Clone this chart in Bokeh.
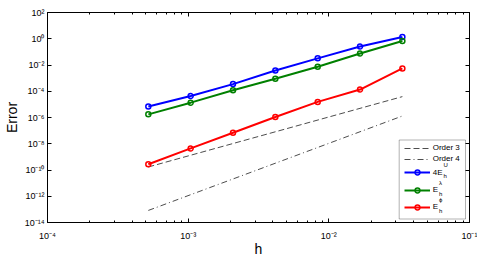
from bokeh.plotting import figure
from bokeh.models import (LogAxis, FixedTicker, CustomJSTickFormatter, Legend, LegendItem,
                          Label, BoxAnnotation, Range1d)
from bokeh.embed import file_html
from bokeh.resources import INLINE

# ---- data ----
h = [1/1920, 1/960, 1/480, 1/240, 1/120, 1/60, 1/30]
err_u4 = [6.8e-6, 4.4e-5, 3.5e-4, 3.8e-3, 3.2e-2, 2.6e-1, 1.38]      # 4 E_h^U
err_lam = [1.74e-6, 1.35e-5, 1.2e-4, 8.9e-4, 7.4e-3, 7.6e-2, 6.8e-1]  # E_h^lambda
err_phi = [2.75e-10, 4.4e-9, 6.9e-8, 1.1e-6, 1.55e-5, 1.35e-4, 5.5e-3]  # E_h^phi
ref_h = [1/1920, 1/30]
order3 = [1.7e-10, 3.9e-5]
order4 = [8.3e-14, 1.3e-6]

x_ticks = [1e-4, 1e-3, 1e-2, 1e-1]
x_minor = [m * 10.0 ** e for e in (-4, -3, -2) for m in range(2, 10)]
y_ticks = [1e-14, 1e-12, 1e-10, 1e-8, 1e-6, 1e-4, 1e-2, 1e0, 1e2]

legend_labels = ["Order 3", "Order 4", "4E", "E", "E"]
sup_labels = ["U", "\u03bb", "\u03d5"]

FONT = "Liberation Sans"
BLUE, GREEN, RED, GREY = "#0000ff", "#008000", "#ff0000", "#4d4d4d"

FRAME_L, FRAME_B = 45, 222.5   # page px of frame left / bottom (for annotations)

p = figure(frame_width=422, frame_height=210, x_axis_type="log", y_axis_type="log",
           x_range=Range1d(1e-4, 1e-1), y_range=Range1d(1e-14, 1e2),
           output_backend="svg", toolbar_location=None,
           min_border_left=37, min_border_right=8, min_border_top=12, min_border_bottom=10)
p.xgrid.visible = False
p.ygrid.visible = False
p.outline_line_color = "black"
p.outline_line_width = 1
p.background_fill_color = "white"
p.border_fill_color = "white"

sup_js = """
const sup = {'-':'\u207b','0':'\u2070','1':'\u00b9','2':'\u00b2','3':'\u00b3','4':'\u2074',
             '5':'\u2075','6':'\u2076','7':'\u2077','8':'\u2078','9':'\u2079'};
const e = Math.round(Math.log10(tick));
return '10' + String(e).split('').map(c => sup[c]).join('');
"""

def style_axis(ax):
    ax.major_tick_in = 4
    ax.major_tick_out = 0
    ax.minor_tick_in = 2
    ax.minor_tick_out = 0
    ax.axis_line_color = "black"
    ax.major_tick_line_color = "black"
    ax.minor_tick_line_color = "black"
    ax.major_label_text_font = FONT
    ax.major_label_text_font_size = "9px"
    ax.major_label_text_color = "black"
    ax.axis_label_text_font = FONT
    ax.axis_label_text_font_style = "normal"
    ax.axis_label_text_color = "black"

xa = p.xaxis[0]
xa.ticker = FixedTicker(ticks=x_ticks, minor_ticks=x_minor)
xa.formatter = CustomJSTickFormatter(code=sup_js)
style_axis(xa)
xa.axis_label = "h"
xa.axis_label_text_font_size = "14px"
xa.major_label_standoff = 8
xa.axis_label_standoff = -3

ya = p.yaxis[0]
ya.ticker = FixedTicker(ticks=y_ticks, minor_ticks=[])
ya.formatter = CustomJSTickFormatter(code=sup_js)
style_axis(ya)
ya.axis_label = "Error"
ya.axis_label_text_font_size = "14px"
ya.major_label_standoff = 3
ya.axis_label_standoff = 2

top = LogAxis(ticker=FixedTicker(ticks=x_ticks, minor_ticks=x_minor),
              formatter=CustomJSTickFormatter(code="return ''"), major_label_standoff=0)
style_axis(top)
p.add_layout(top, "above")
right = LogAxis(ticker=FixedTicker(ticks=y_ticks, minor_ticks=[]),
                formatter=CustomJSTickFormatter(code="return ''"), major_label_standoff=0)
style_axis(right)
p.add_layout(right, "right")

# ---- glyphs ----
r3 = p.line(ref_h, order3, line_color=GREY, line_width=1, line_dash="6 3")
r4 = p.line(ref_h, order4, line_color=GREY, line_width=1, line_dash="6 3 1 3")

series = []
for ys, col in ((err_u4, BLUE), (err_lam, GREEN), (err_phi, RED)):
    ln = p.line(h, ys, line_color=col, line_width=2)
    sc = p.scatter(h, ys, marker="circle", size=5, line_color=col, line_width=1.5,
                   fill_alpha=0)
    series.append((ln, sc))

# ---- legend (MATLAB-like box) ----
frame_box = BoxAnnotation(left=396.7 - FRAME_L, right=463 - FRAME_L,
                          top=FRAME_B - 140, bottom=FRAME_B - 219,
                          left_units="screen", right_units="screen",
                          top_units="screen", bottom_units="screen",
                          fill_color="white", fill_alpha=1,
                          line_color="black", line_width=1, level="underlay")
p.add_layout(frame_box)

rows = [
    ([r3], 148.3, 10, "middle"),
    ([r4], 159.3, 10, "middle"),
    (list(series[0]), 172.7, 12, "bottom"),
    (list(series[1]), 190.0, 12, "bottom"),
    (list(series[2]), 207.3, 12, "bottom"),
]
for (rends, yc, gh, base), lab in zip(rows, legend_labels):
    lg = Legend(items=[LegendItem(label=lab, renderers=rends)],
                location=(401.7 - FRAME_L, FRAME_B - yc - gh / 2),
                margin=0, padding=0, spacing=0,
                glyph_width=26, glyph_height=gh, label_height=gh, label_standoff=3,
                border_line_alpha=0, background_fill_alpha=0,
                label_text_font=FONT, label_text_font_size="8px",
                label_text_color="black", label_text_baseline=base)
    p.add_layout(lg)

# superscripts / subscripts of the legend labels
sub_pos = [(441.0, 164.5, 175.5), (436.5, 182.5, 193.5), (436.5, 199.5, 210.5)]
for s, (xs, ysup, ysub) in zip(sup_labels, sub_pos):
    for txt, yy in ((s, ysup), ("h", ysub)):
        p.add_layout(Label(x=xs - FRAME_L, y=FRAME_B - yy, x_units="screen", y_units="screen",
                           text=txt, text_font=FONT, text_font_size="6px",
                           text_baseline="middle", text_align="left", text_color="black"))

open("out.html", "w").write(file_html(p, INLINE))
